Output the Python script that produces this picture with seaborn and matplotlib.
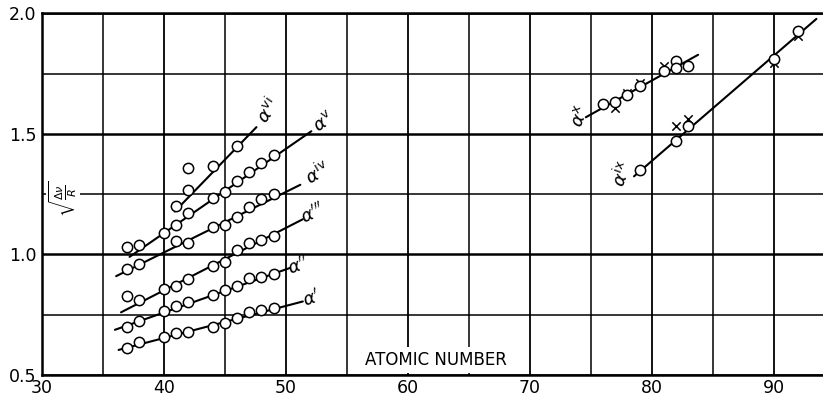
import numpy as np
import pandas as pd
import matplotlib
matplotlib.use("Agg")
import matplotlib.pyplot as plt
import seaborn as sns

# ---------------- data ----------------
z_a1 = [37, 38, 40, 41, 42, 44, 45, 46, 47, 48, 49]
a1 = [0.614, 0.635, 0.657, 0.674, 0.680, 0.701, 0.715, 0.736, 0.760, 0.768, 0.778]
z_a2 = [37, 38, 40, 41, 42, 44, 45, 46, 47, 48, 49]
a2 = [0.701, 0.722, 0.767, 0.785, 0.801, 0.833, 0.854, 0.868, 0.903, 0.905, 0.917]
z_a3 = [37, 38, 40, 41, 42, 44, 45, 46, 47, 48, 49]
a3 = [0.829, 0.8125, 0.857, 0.868, 0.899, 0.951, 0.968, 1.018, 1.046, 1.060, 1.076]
z_a4 = [37, 38, 41, 42, 44, 45, 46, 47, 48, 49]
a4 = [0.940, 0.961, 1.055, 1.046, 1.115, 1.121, 1.157, 1.197, 1.229, 1.250]
z_a5 = [37, 38, 40, 41, 42, 44, 45, 46, 47, 48, 49]
a5 = [1.030, 1.0375, 1.090, 1.122, 1.170, 1.236, 1.260, 1.305, 1.344, 1.378, 1.414]
z_a6 = [41, 42, 42, 44, 46]
a6 = [1.200, 1.268, 1.358, 1.368, 1.448]

z_a10_o = [76, 77, 78, 79, 81, 82, 82, 83]
a10_o = [1.622, 1.633, 1.661, 1.699, 1.761, 1.803, 1.775, 1.782]
z_a10_x = [77, 78, 79, 81]
a10_x = [1.608, 1.671, 1.712, 1.782]
z_a9_o = [79, 82, 83, 90, 92]
a9_o = [1.352, 1.472, 1.532, 1.810, 1.928]
z_a9_x = [82, 83, 90, 92]
a9_x = [1.532, 1.560, 1.796, 1.907]

# fitted straight lines (start / end)
fit_names = ["a1", "a2", "a3", "a4", "a5", "a6", "a10", "a9"]
fit_x0 = [36.3, 36.0, 36.5, 36.1, 37.2, 40.9, 74.6, 78.55]
fit_y0 = [0.604, 0.6875, 0.760, 0.910, 0.990, 1.178, 1.569, 1.324]
fit_x1 = [51.4, 50.35, 51.4, 51.2, 52.1, 47.6, 83.8, 93.5]
fit_y1 = [0.805, 0.944, 1.146, 1.289, 1.511, 1.528, 1.828, 1.977]

line_labels = [r"$\alpha'$", r"$\alpha''$", r"$\alpha'''$", r"$\alpha^{\mathrm{iv}}$",
               r"$\alpha^{\mathrm{v}}$", r"$\alpha^{\mathrm{vi}}$", r"$\alpha^{\mathrm{x}}$",
               r"$\alpha^{\mathrm{ix}}$"]
label_x = [52.1, 51.0, 52.2, 52.6, 53.1, 48.55, 74.1, 77.6]
label_y = [0.817, 0.954, 1.171, 1.336, 1.550, 1.595, 1.574, 1.332]
label_rot = [20, 20, 25, 30, 35, 55, 70, 70]

x_ticks = [30, 40, 50, 60, 70, 80, 90]
y_ticks = [0.5, 1.0, 1.5, 2.0]

# ---------------- build tables ----------------
circ = pd.concat([
    pd.DataFrame({"Z": z, "v": v}) for z, v in
    [(z_a1, a1), (z_a2, a2), (z_a3, a3), (z_a4, a4), (z_a5, a5), (z_a6, a6),
     (z_a10_o, a10_o), (z_a9_o, a9_o)]
], ignore_index=True)
cross = pd.concat([
    pd.DataFrame({"Z": z, "v": v}) for z, v in [(z_a10_x, a10_x), (z_a9_x, a9_x)]
], ignore_index=True)
fits = pd.DataFrame({
    "name": fit_names * 2,
    "Z": fit_x0 + fit_x1,
    "v": fit_y0 + fit_y1,
})

# ---------------- plot ----------------
sns.set_theme(style="white")
plt.rcParams["font.family"] = ["DejaVu Sans"]
plt.rcParams["mathtext.fontset"] = "dejavusans"

fig = plt.figure(figsize=(8.23, 3.97), dpi=100)
ax = fig.add_axes([0.0507, 0.0554, 0.9493, 0.911])

sns.lineplot(data=fits, x="Z", y="v", units="name", estimator=None,
             color="black", lw=1.5, ax=ax, legend=False, zorder=3, sort=False)
sns.scatterplot(data=cross, x="Z", y="v", marker="x", s=36, color="black",
                linewidth=1.1, ax=ax, zorder=4, legend=False)
sns.scatterplot(data=circ, x="Z", y="v", marker="o", s=55, facecolor="white",
                edgecolor="black", linewidth=1.1, ax=ax, zorder=5, legend=False)

ax.set_xlim(30, 94.04)
ax.set_ylim(0.5, 2.0)
ax.set_xticks(x_ticks)
ax.set_xticks([35, 45, 55, 65, 75, 85], minor=True)
ax.set_yticks(y_ticks)
ax.set_yticks([0.75, 1.25, 1.75], minor=True)
ax.set_xticklabels([str(t) for t in x_ticks])
ax.set_yticklabels([f"{t:.1f}" for t in y_ticks])
ax.grid(True, which="major", axis="x", color="black", lw=1.3)
ax.grid(True, which="minor", axis="x", color="black", lw=1.1)
ax.grid(True, which="major", axis="y", color="black", lw=1.8)
ax.grid(True, which="minor", axis="y", color="black", lw=1.1)
ax.set_axisbelow(True)
ax.tick_params(axis="both", which="both", length=0, labelsize=12.5, colors="black")
ax.tick_params(axis="x", pad=3)
ax.tick_params(axis="y", pad=4)
ax.set_xlabel("")
ax.set_ylabel("")
for side in ["left", "bottom", "top"]:
    ax.spines[side].set_visible(True)
    ax.spines[side].set_color("black")
    ax.spines[side].set_linewidth(1.8)
    ax.spines[side].set_zorder(3)
ax.spines["right"].set_visible(False)

for txt, lx, ly, r in zip(line_labels, label_x, label_y, label_rot):
    ax.text(lx, ly, txt, rotation=r, ha="center", va="center", fontsize=13,
            color="black", zorder=6)

ax.text(31.75, 1.234, r"$\sqrt{\frac{\Delta\nu}{R}}$", rotation=90, ha="center",
        va="center", fontsize=11.5, color="black", zorder=2,
        bbox=dict(facecolor="white", edgecolor="none", pad=1.0))
ax.text(62.3, 0.562, "ATOMIC NUMBER", ha="center", va="center", fontsize=12,
        color="black", zorder=2,
        bbox=dict(facecolor="white", edgecolor="none", pad=3))

fig.savefig("out.png", dpi=100)
